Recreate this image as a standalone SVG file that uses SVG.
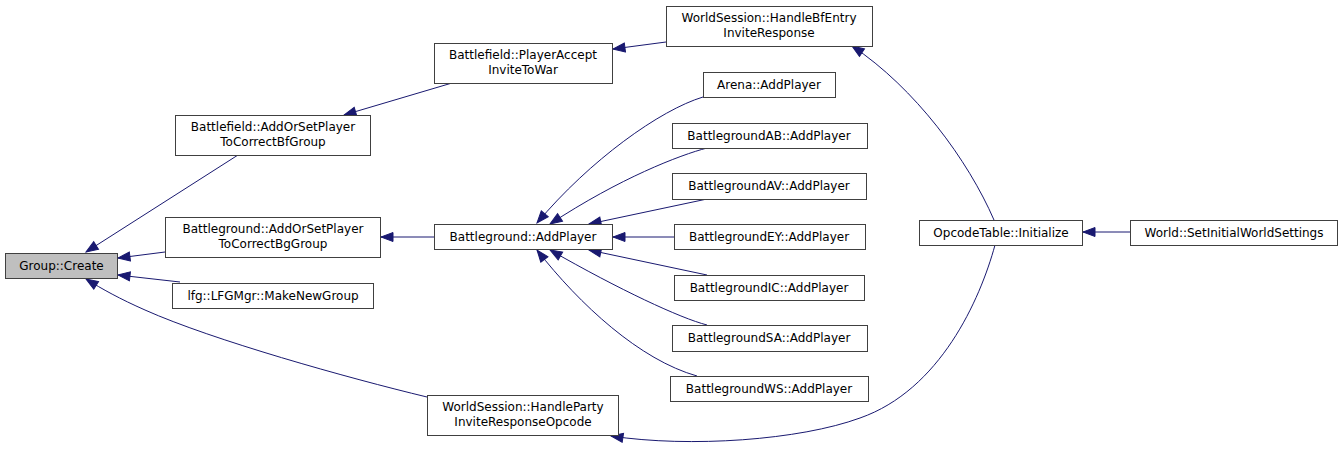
<svg xmlns="http://www.w3.org/2000/svg" width="1343" height="452" viewBox="0 0 1343 452">
<style>
.n rect{fill:#ffffff;stroke:#404040;stroke-width:1}
.n text{font-family:"DejaVu Sans",sans-serif;font-size:12px;fill:#000;text-anchor:middle}
#edges path{fill:none;stroke:#191970;stroke-width:1;marker-end:url(#ah)}
</style>
<defs>
<marker id="ah" markerUnits="userSpaceOnUse" markerWidth="14" markerHeight="11" refX="12" refY="4.5" orient="auto" overflow="visible">
<path d="M0,0 L12,4.5 L0,9 z" fill="#191970" stroke="#191970" stroke-width="1"/>
</marker>
</defs>
<rect width="1343" height="452" fill="#ffffff"/>
<g id="edges">
<path d="M238,155 L86,252"/>
<path d="M165,252 L118,258"/>
<path d="M180,282 L118,275"/>
<path d="M427,397 C348,378 212,340 145,310 C120,299 102,289 86,279"/>
<path d="M452,83 L344,115"/>
<path d="M666,42 L613,49"/>
<path d="M994,220 C968,160 915,88 852,46"/>
<path d="M995,245 C980,300 940,390 860,418 C800,440 690,448 611,436"/>
<path d="M434,237 L381,237"/>
<path d="M703,97 C660,110 590,160 537,223"/>
<path d="M707,148 C680,155 620,178 550,224"/>
<path d="M707,199 L589,224"/>
<path d="M674,237 L613,237"/>
<path d="M707,275 L589,250"/>
<path d="M707,325 C680,318 620,290 550,250"/>
<path d="M697,376 C640,360 580,305 537,250"/>
<path d="M1130,232 L1083,232"/>
</g>
<g id="group_create" class="n"><rect x="5.5" y="253.5" width="112" height="25" style="fill:#bfbfbf"/><text x="61.5" y="270">Group::Create</text></g>
<g id="bf_addorset" class="n"><rect x="175.5" y="115.5" width="195" height="40"/><text x="273" y="131">Battlefield::AddOrSetPlayer</text><text x="273" y="146">ToCorrectBfGroup</text></g>
<g id="bg_addorset" class="n"><rect x="165.5" y="217.5" width="215" height="40"/><text x="273" y="233">Battleground::AddOrSetPlayer</text><text x="273" y="248">ToCorrectBgGroup</text></g>
<g id="lfg_makenewgroup" class="n"><rect x="172.5" y="283.5" width="201" height="25"/><text x="273" y="300">lfg::LFGMgr::MakeNewGroup</text></g>
<g id="ws_handleparty" class="n"><rect x="427.5" y="395.5" width="191" height="40"/><text x="523" y="411">WorldSession::HandleParty</text><text x="523" y="426">InviteResponseOpcode</text></g>
<g id="bf_playeraccept" class="n"><rect x="434.5" y="43.5" width="178" height="40"/><text x="523" y="59">Battlefield::PlayerAccept</text><text x="523" y="74">InviteToWar</text></g>
<g id="bg_addplayer" class="n"><rect x="434.5" y="224.5" width="178" height="25"/><text x="523" y="241">Battleground::AddPlayer</text></g>
<g id="ws_handlebfentry" class="n"><rect x="666.5" y="6.5" width="206" height="40"/><text x="769" y="22">WorldSession::HandleBfEntry</text><text x="769" y="37">InviteResponse</text></g>
<g id="arena_addplayer" class="n"><rect x="703.5" y="72.5" width="132" height="25"/><text x="769" y="89">Arena::AddPlayer</text></g>
<g id="bgab_addplayer" class="n"><rect x="672.5" y="123.5" width="195" height="25"/><text x="769" y="140">BattlegroundAB::AddPlayer</text></g>
<g id="bgav_addplayer" class="n"><rect x="672.5" y="173.5" width="194" height="26"/><text x="769" y="190">BattlegroundAV::AddPlayer</text></g>
<g id="bgey_addplayer" class="n"><rect x="674.5" y="224.5" width="191" height="25"/><text x="769" y="241">BattlegroundEY::AddPlayer</text></g>
<g id="bgic_addplayer" class="n"><rect x="674.5" y="275.5" width="190" height="25"/><text x="769" y="292">BattlegroundIC::AddPlayer</text></g>
<g id="bgsa_addplayer" class="n"><rect x="672.5" y="325.5" width="195" height="26"/><text x="769" y="342">BattlegroundSA::AddPlayer</text></g>
<g id="bgws_addplayer" class="n"><rect x="670.5" y="376.5" width="198" height="25"/><text x="769" y="393">BattlegroundWS::AddPlayer</text></g>
<g id="opcodetable_init" class="n"><rect x="919.5" y="220.5" width="163" height="25"/><text x="1001" y="237">OpcodeTable::Initialize</text></g>
<g id="world_setinitial" class="n"><rect x="1130.5" y="220.5" width="207" height="25"/><text x="1234" y="237">World::SetInitialWorldSettings</text></g>
</svg>
